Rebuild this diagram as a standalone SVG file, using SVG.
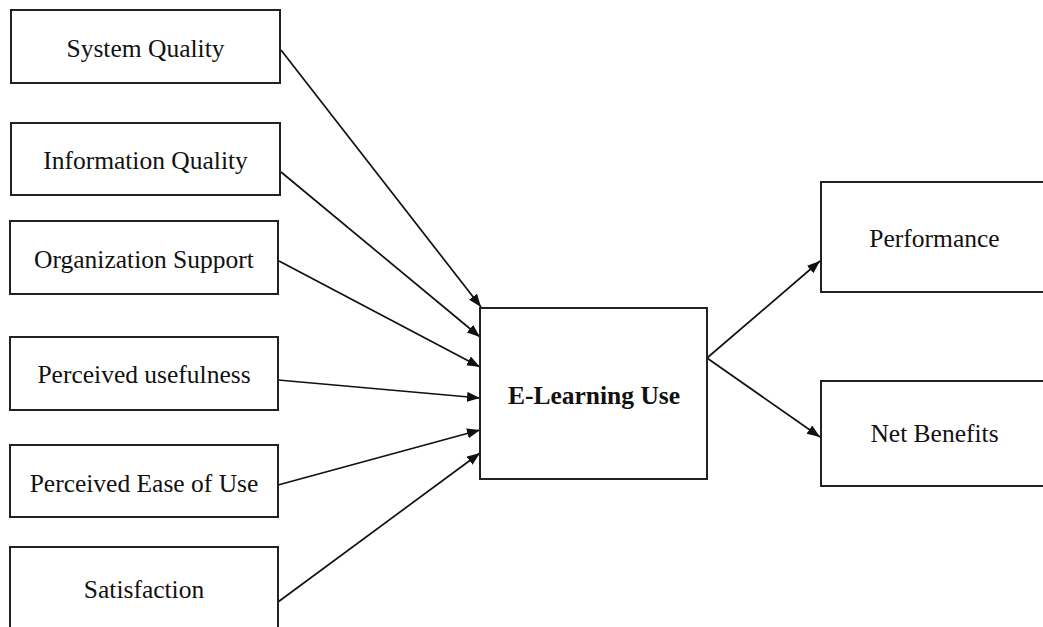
<svg xmlns="http://www.w3.org/2000/svg" width="1043" height="627" viewBox="0 0 1043 627">
  <defs>
    <marker id="arrow" markerUnits="userSpaceOnUse" markerWidth="14" markerHeight="11" refX="13" refY="5" orient="auto">
      <path d="M0,0 L13,5 L0,10 z" fill="#111"/>
    </marker>
    <style>
      .box { fill: #fff; stroke: #222; stroke-width: 2; }
      .lbl { font-family: "Liberation Serif", "Times New Roman", serif; font-size: 25.5px; fill: #111; text-anchor: middle; }
      .bold { font-weight: bold; }
      .conn { stroke: #111; stroke-width: 1.7; fill: none; marker-end: url(#arrow); }
    </style>
  </defs>
  <rect width="1043" height="627" fill="#fff"/>

  <g id="connectors">
    <line class="conn" x1="281" y1="50" x2="481" y2="307"/>
    <line class="conn" x1="281" y1="172" x2="480" y2="337"/>
    <line class="conn" x1="279" y1="261" x2="480" y2="367"/>
    <line class="conn" x1="278" y1="380" x2="480" y2="398"/>
    <line class="conn" x1="278" y1="485" x2="480" y2="430"/>
    <line class="conn" x1="278" y1="602" x2="480" y2="453"/>
    <line class="conn" x1="707" y1="358" x2="820" y2="261"/>
    <line class="conn" x1="707" y1="358" x2="820" y2="437"/>
  </g>

  <g id="system-quality">
    <rect class="box" x="11" y="10" width="269" height="73"/>
    <text class="lbl" x="145.5" y="57">System Quality</text>
  </g>
  <g id="information-quality">
    <rect class="box" x="11" y="123" width="269" height="72"/>
    <text class="lbl" x="145.5" y="169">Information Quality</text>
  </g>
  <g id="organization-support">
    <rect class="box" x="10" y="221" width="268" height="73"/>
    <text class="lbl" x="144" y="268">Organization Support</text>
  </g>
  <g id="perceived-usefulness">
    <rect class="box" x="10" y="337" width="268" height="73"/>
    <text class="lbl" x="144" y="383">Perceived usefulness</text>
  </g>
  <g id="perceived-ease-of-use">
    <rect class="box" x="10" y="445" width="268" height="72"/>
    <text class="lbl" x="144" y="492">Perceived Ease of Use</text>
  </g>
  <g id="satisfaction">
    <rect class="box" x="10" y="547" width="268" height="90"/>
    <text class="lbl" x="144" y="598">Satisfaction</text>
  </g>
  <g id="e-learning-use">
    <rect class="box" x="480" y="308" width="227" height="171"/>
    <text class="lbl bold" x="594" y="404">E-Learning Use</text>
  </g>
  <g id="performance">
    <rect class="box" x="821" y="182" width="227" height="110"/>
    <text class="lbl" x="934.5" y="247">Performance</text>
  </g>
  <g id="net-benefits">
    <rect class="box" x="821" y="381" width="227" height="105"/>
    <text class="lbl" x="934.5" y="442">Net Benefits</text>
  </g>
</svg>
